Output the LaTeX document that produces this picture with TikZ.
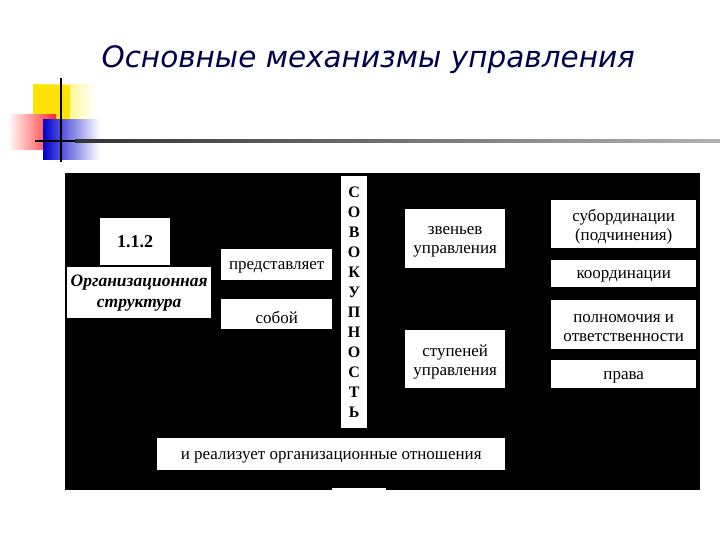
\documentclass[tikz,border=0pt]{standalone}
\usepackage{fontspec}
\setmainfont{Liberation Serif}
\newfontfamily\titlefont{DejaVu Sans}
\begin{document}
\begin{tikzpicture}[x=1pt,y=-1pt,
  box/.style={fill=white,draw=none,inner sep=1pt,align=center,font=\fontsize{17}{19}\selectfont},
  low/.style={label={[fill=white,inner sep=1pt,align=center,font=\fontsize{17}{19}\selectfont,yshift=-3pt]center:#1}}]
\useasboundingbox (0,0) rectangle (720,540);
\fill[white] (0,0) rectangle (720,540);
% decoration
\shade[left color=yellow!85!orange,right color=white] (33,85) rectangle (95,130);
\fill[yellow!85!orange] (33,85) rectangle (70,130);
\shade[left color=white,right color=red!85!white] (8,115) rectangle (56,150);
\shade[left color=blue!80!black,right color=white] (43,120) rectangle (100,160);
\draw[line width=2pt] (61,78) -- (61,162);
\draw[line width=2pt] (35,141) -- (75,141);
\shade[left color=black!80,right color=black!30] (75,140) rectangle (720,142.5);
\node[font=\titlefont\itshape\fontsize{29.5}{34}\selectfont,text=blue!30!black,anchor=west] (title) at (98,60) {Основные механизмы управления};
% panel
\fill[black] (65,173) rectangle (700,490);
\fill[white] (332,488) rectangle (386,492);
\node[box,minimum width=70,minimum height=47,font=\bfseries\fontsize{18}{20}\selectfont,anchor=north west] (num) at (100,218) {1.1.2};
\node[box,minimum width=144,minimum height=51,font=\bfseries\itshape\fontsize{17.5}{21}\selectfont,anchor=north west] (org) at (67,267) {Организационная\\структура};
\node[box,minimum width=111,minimum height=31,anchor=north west,low={представляет}] (pr) at (221,249) {};
\node[box,minimum width=111,minimum height=30,anchor=north west,low={собой}] (sob) at (221,299) {};
\node[box,minimum width=26,minimum height=252,anchor=north west,font=\bfseries\fontsize{16}{20}\selectfont] (sov) at (341,176) {С\\О\\В\\О\\К\\У\\П\\Н\\О\\С\\Т\\Ь};
\node[box,minimum width=100,minimum height=59,anchor=north west,low={звеньев\\управления}] (zv) at (405,209) {};
\node[box,minimum width=100,minimum height=58,anchor=north west,low={ступеней\\управления}] (st) at (405,330) {};
\node[box,minimum width=145,minimum height=48,anchor=north west,low={субординации\\(подчинения)}] (sub) at (551,200) {};
\node[box,minimum width=145,minimum height=27,anchor=north west,low={координации}] (koo) at (551,260) {};
\node[box,minimum width=145,minimum height=49,anchor=north west,low={полномочия и\\ответственности}] (pol) at (551,300) {};
\node[box,minimum width=145,minimum height=28,anchor=north west,low={права}] (prav) at (551,360) {};
\node[box,minimum width=348,minimum height=32,anchor=north west,low={и реализует организационные отношения}] (real) at (157,438) {};
\end{tikzpicture}
\end{document}
